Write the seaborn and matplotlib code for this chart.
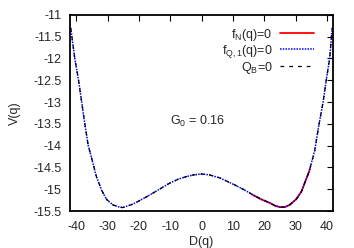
import numpy as np
import pandas as pd
import seaborn as sns
import matplotlib
matplotlib.use("Agg")
import matplotlib.pyplot as plt

# values
q_vals = [-41.8, -40.5, -39.3, -38.3, -37.3, -36.2, -35.0, -33.6, -32.0, -30.4,
          -28.3, -26.2, -25.2, -23.5, -21.9, -19.8, -17.5, -15.6, -13.0, -10.2,
          -7.5, -4.9, -2.5, 0.0, 2.5, 5.8, 8.5, 11.1, 13.8, 16.4,
          19.0, 21.7, 23.5, 25.0, 26.5, 28.1, 30.2, 31.9, 32.9, 34.3,
          35.0, 36.1, 37.4, 38.8, 39.8, 40.9, 41.7]
v_vals = [-11.30, -12.00, -12.50, -13.00, -13.50, -14.00, -14.32, -14.71, -15.01, -15.23,
          -15.36, -15.41, -15.42, -15.38, -15.34, -15.26, -15.17, -15.09, -14.98, -14.86,
          -14.77, -14.71, -14.67, -14.65, -14.67, -14.74, -14.83, -14.92, -15.02, -15.13,
          -15.23, -15.31, -15.38, -15.41, -15.41, -15.36, -15.23, -15.05, -14.86, -14.60,
          -14.42, -14.12, -13.55, -13.00, -12.50, -12.00, -11.30]
# part of the curve where f_N(q)=0 (red)
red_q = [16.4, 19.0, 21.7, 23.5, 25.0, 26.5, 28.1, 30.2, 31.9, 32.9, 34.3, 34.6]
red_v = [-15.13, -15.23, -15.31, -15.38, -15.41, -15.41, -15.36, -15.23, -15.05, -14.86, -14.60, -14.53]

x_ticks = [-40, -30, -20, -10, 0, 10, 20, 30, 40]
y_ticks = [-11, -11.5, -12, -12.5, -13, -13.5, -14, -14.5, -15, -15.5]

full = pd.DataFrame({"q": q_vals, "V": v_vals})
red = pd.DataFrame({"q": red_q, "V": red_v})

sns.set_style("white")
plt.rcParams["font.family"] = ["Liberation Sans", "DejaVu Sans"]
plt.rcParams["mathtext.fontset"] = "custom"
plt.rcParams["mathtext.rm"] = "Liberation Sans"
plt.rcParams["mathtext.it"] = "Liberation Sans"

fs = 9
fig = plt.figure(figsize=(3.54, 2.48), dpi=100)
ax = fig.add_axes([0.198, 0.149, 0.743, 0.791])

sns.lineplot(data=red, x="q", y="V", sort=False, color="#ff0000", lw=1.3,
             label=r"f$_\mathrm{N}$(q)=0", ax=ax)
sns.lineplot(data=full, x="q", y="V", sort=False, color="#0000ff", lw=1.1,
             linestyle=(0, (1, 0.8)), label=r"f$_\mathrm{Q,1}$(q)=0", ax=ax)
sns.lineplot(data=full, x="q", y="V", sort=False, color="black", lw=0.9,
             linestyle=(0, (3, 4)), label=r"Q$_\mathrm{B}$=0", ax=ax)

ax.set_xlim(-42, 42)
ax.set_ylim(-15.5, -11)
ax.set_xticks(x_ticks)
ax.set_yticks(y_ticks)
ax.set_xticklabels([str(t) for t in x_ticks], fontsize=fs)
ax.set_yticklabels([("%g" % t) for t in y_ticks], fontsize=fs)
ax.tick_params(direction="in", length=4, width=0.8, top=True, right=True,
               color="black", pad=6)
ax.tick_params(axis="x", pad=7)
for s in ax.spines.values():
    s.set_linewidth(1.3)
    s.set_color("black")

ax.set_xlabel("D(q)", fontsize=fs, labelpad=2)
ax.set_ylabel("V(q)", fontsize=fs, labelpad=9)

ax.text(-10, -13.45, r"G$_0$ = 0.16", fontsize=fs, ha="left", va="center")

leg = ax.legend(loc="upper right", bbox_to_anchor=(0.96, 0.985), frameon=False,
                markerfirst=False, fontsize=fs, labelspacing=0.0,
                handlelength=2.7, handletextpad=0.6, borderpad=0.2)

fig.savefig("out.png", dpi=100)
